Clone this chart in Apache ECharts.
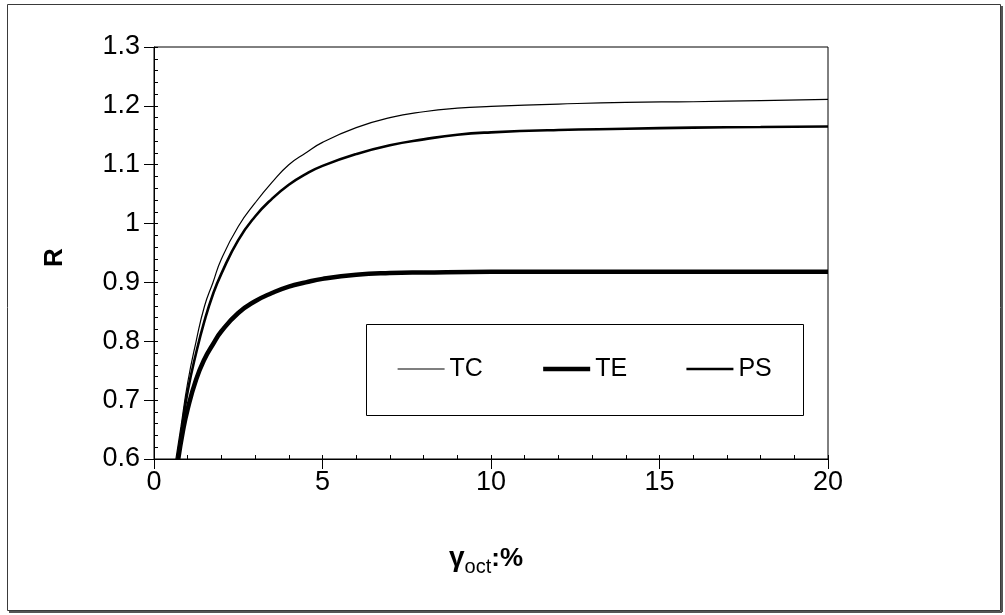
<!DOCTYPE html>
<html>
<head>
<meta charset="utf-8">
<script src="https://cdn.jsdelivr.net/npm/echarts@6/dist/echarts.min.js"></script>
<style>
  html, body { margin: 0; padding: 0; background: #fff; }
  #chart { width: 1005px; height: 615px; }
</style>
</head>
<body>
<div id="chart"></div>
<script>
// Strain (%) and R for the three loading paths
const tcX = [0.65, 0.8, 1.0, 1.25, 1.5, 1.75, 2.0, 2.5, 3.0, 3.5, 4.0, 4.5, 5.0, 6.0, 7.0, 8.0, 9.0, 10.0, 12.0, 14.0, 16.0, 18.0, 20.0];
const tcR = [0.60, 0.655, 0.73, 0.80, 0.86, 0.90, 0.94, 0.995, 1.035, 1.07, 1.10, 1.12, 1.138, 1.163, 1.18, 1.19, 1.196, 1.199, 1.203, 1.206, 1.207, 1.209, 1.211];

const teX = [0.72, 0.85, 1.0, 1.25, 1.5, 1.75, 2.0, 2.5, 3.0, 3.5, 4.0, 4.5, 5.0, 6.0, 7.0, 8.0, 10.0, 15.0, 20.0];
const teR = [0.60, 0.645, 0.685, 0.735, 0.77, 0.795, 0.817, 0.848, 0.868, 0.882, 0.893, 0.900, 0.906, 0.913, 0.916, 0.917, 0.918, 0.918, 0.918];

const psX = [0.7, 0.85, 1.0, 1.25, 1.5, 1.75, 2.0, 2.5, 3.0, 3.5, 4.0, 4.5, 5.0, 6.0, 7.0, 8.0, 9.0, 10.0, 12.0, 14.0, 16.0, 18.0, 20.0];
const psR = [0.60, 0.66, 0.715, 0.78, 0.835, 0.88, 0.915, 0.972, 1.012, 1.042, 1.066, 1.084, 1.098, 1.118, 1.133, 1.143, 1.151, 1.155, 1.159, 1.161, 1.163, 1.164, 1.165];

const seriesNames = ['TC', 'TE', 'PS'];
const xTicks = { min: 0, max: 20, interval: 5 };
const yTicks = { min: 0.6, max: 1.3, interval: 0.1 };

const pairs = (xs, ys) => xs.map((x, i) => [x, ys[i]]);

const FONT = 'Liberation Sans, Arial, sans-serif';
const chart = echarts.init(document.getElementById('chart'), null, { renderer: 'canvas' });

const lineWidths = { TC: 1.2, TE: 4.5, PS: 2.6 };
const dataMap = { TC: pairs(tcX, tcR), TE: pairs(teX, teR), PS: pairs(psX, psR) };

chart.setOption({
  backgroundColor: '#fff',
  animation: false,
  grid: {
    left: 154, top: 47, width: 674, height: 412,
    show: true, borderColor: '#000', borderWidth: 1, backgroundColor: 'transparent',
    containLabel: false, outerBoundsMode: 'none'
  },
  xAxis: [
    {
      type: 'value', position: 'bottom', ...xTicks,
      axisLine: { show: true, onZero: false, lineStyle: { color: '#000', width: 1 } },
      axisTick: { show: true, inside: false, length: 10, lineStyle: { color: '#000', width: 1 } },
      minorTick: { show: false },
      splitLine: { show: false },
      axisLabel: { show: true, margin: 10, color: '#000', fontSize: 27, fontFamily: FONT }
    },
    {
      type: 'value', position: 'bottom', ...xTicks,
      axisLine: { show: false },
      axisTick: { show: true, inside: true, length: 4, lineStyle: { color: '#000', width: 1 } },
      minorTick: { show: true, splitNumber: 5, length: 4, lineStyle: { color: '#000', width: 1 } },
      splitLine: { show: false },
      axisLabel: { show: false }
    }
  ],
  yAxis: [
    {
      type: 'value', position: 'left', ...yTicks,
      axisLine: { show: true, onZero: false, lineStyle: { color: '#000', width: 1 } },
      axisTick: { show: true, inside: false, length: 10, lineStyle: { color: '#000', width: 1 } },
      minorTick: { show: false },
      splitLine: { show: false },
      axisLabel: { show: true, margin: 14, color: '#000', fontSize: 27, fontFamily: FONT }
    },
    {
      type: 'value', position: 'left', ...yTicks,
      axisLine: { show: false },
      axisTick: { show: true, inside: true, length: 4, lineStyle: { color: '#000', width: 1 } },
      minorTick: { show: true, splitNumber: 5, length: 4, lineStyle: { color: '#000', width: 1 } },
      splitLine: { show: false },
      axisLabel: { show: false }
    }
  ],
  legend: {
    orient: 'horizontal',
    left: 397, top: 356, z: 10, padding: 0,
    itemWidth: 47, itemHeight: 14, itemGap: 58,
    itemStyle: { opacity: 0 },
    data: seriesNames.map(n => ({ name: n, lineStyle: { width: lineWidths[n], color: '#000', opacity: 1 } })),
    textStyle: { color: '#000', fontSize: 25, lineHeight: 26, fontFamily: FONT }
  },
  graphic: [
    // outer frame with a soft drop edge
    { type: 'rect', silent: true, z: 0, shape: { x: 7.5, y: 4.5, width: 993, height: 606 },
      style: { fill: null, stroke: '#3a3a3a', lineWidth: 1 } },
    { type: 'line', silent: true, z: 0, shape: { x1: 1002, y1: 6, x2: 1002, y2: 612 },
      style: { stroke: '#555', lineWidth: 2 } },
    { type: 'line', silent: true, z: 0, shape: { x1: 9, y1: 612, x2: 1002, y2: 612 },
      style: { stroke: '#555', lineWidth: 2 } },
    // legend frame
    { type: 'rect', silent: true, z: 1, shape: { x: 366.5, y: 324.5, width: 437, height: 91 },
      style: { fill: null, stroke: '#000', lineWidth: 1 } },
    // axis titles
    { type: 'text', silent: true, x: 42, y: 267, rotation: Math.PI / 2,
      style: { text: 'R', fill: '#000', font: 'bold 26px ' + FONT } },
    { type: 'text', silent: true, x: 449, y: 544,
      style: {
        text: '{g|γ}{s|oct}{b|:%}',
        rich: {
          g: { fontSize: 28, fontWeight: 'bold', fontFamily: FONT, fill: '#000', verticalAlign: 'bottom' },
          s: { fontSize: 20, fontFamily: FONT, fill: '#000', verticalAlign: 'bottom', padding: [0, 0, -5, 0] },
          b: { fontSize: 26, fontWeight: 'bold', fontFamily: FONT, fill: '#000', verticalAlign: 'bottom' }
        }
      } }
  ],
  series: seriesNames.map(n => ({
    name: n, type: 'line', xAxisIndex: 0, yAxisIndex: 0,
    data: dataMap[n], showSymbol: false, symbol: 'none', smooth: true, clip: true,
    lineStyle: { color: '#000', width: lineWidths[n] }, itemStyle: { color: '#000' },
    z: 3
  }))
});
</script>
</body>
</html>
